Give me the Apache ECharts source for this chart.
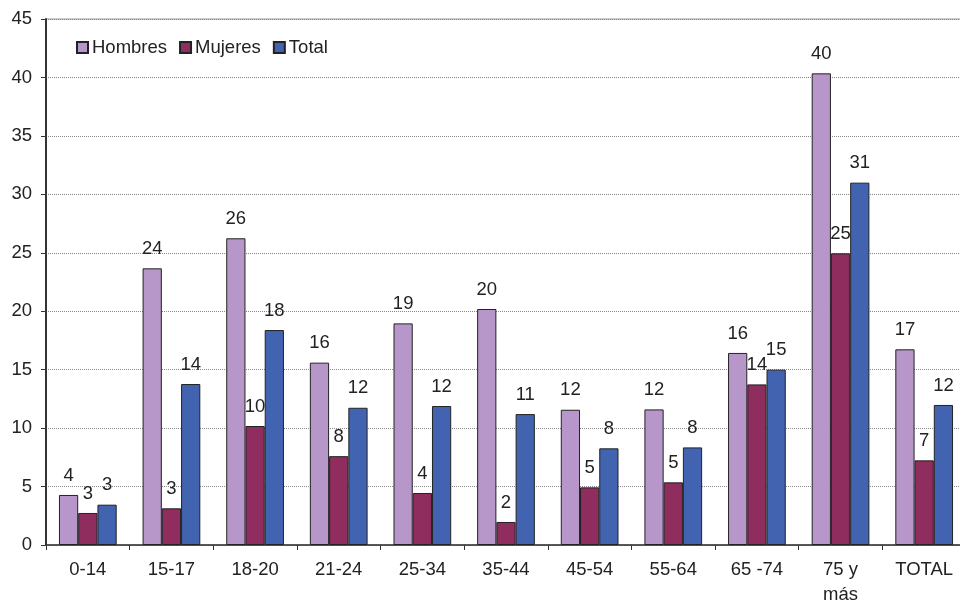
<!DOCTYPE html>
<html>
<head>
<meta charset="utf-8">
<script src="https://cdn.jsdelivr.net/npm/echarts@6/dist/echarts.min.js"></script>
<style>
html,body{margin:0;padding:0;background:#fff;}
#chart{width:960px;height:604px;}
</style>
</head>
<body>
<div id="chart"></div>
<script>
const categories = ['0-14','15-17','18-20','21-24','25-34','35-44','45-54','55-64','65 -74','75 y\nmás','TOTAL'];
const hombres = [4.28, 23.67, 26.24, 15.6, 18.96, 20.19, 11.57, 11.6, 16.43, 40.35, 16.74];
const mujeres = [2.74, 3.14, 10.18, 7.6, 4.45, 1.97, 4.93, 5.36, 13.74, 24.95, 7.24];
const total   = [3.45, 13.77, 18.39, 11.74, 11.89, 11.2, 8.27, 8.35, 15.0, 31.0, 11.98];
const yTicks = {min: 0, max: 45, interval: 5};

const FONT = '"Liberation Sans", Arial, sans-serif';
const FS = 18.5;
const labelCfg = {
  show: true,
  position: 'top',
  distance: 10,
  color: '#222',
  fontSize: FS,
  fontFamily: FONT,
  formatter: p => Math.round(p.value)
};
function mk(name, data, color){
  return {
    name, type: 'bar', data,
    barGap: '0%', barCategoryGap: '31%',
    itemStyle: {color, borderColor: '#222', borderWidth: 1},
    label: labelCfg,
    emphasis: {disabled: true}
  };
}
const chart = echarts.init(document.getElementById('chart'));
chart.setOption({
  animation: false,
  backgroundColor: '#fff',
  textStyle: {fontFamily: FONT},
  grid: {left: 46, right: -6, top: 19, bottom: 59, containLabel: false, outerBoundsMode: 'none',
         show: true, borderColor: '#999', borderWidth: 1},
  legend: {
    left: 76, top: 38, padding: 0,
    icon: 'rect', itemWidth: 11, itemHeight: 11, itemGap: 12,
    textStyle: {fontSize: FS, color: '#222', fontFamily: FONT, padding: [0,0,0,-1]},
    data: ['Hombres','Mujeres','Total']
  },
  xAxis: {
    type: 'category', data: categories,
    axisLine: {lineStyle: {color: '#333', width: 1.5}},
    axisTick: {show: true, length: 5, lineStyle: {color: '#333'}},
    axisLabel: {color: '#222', fontSize: FS, margin: 12, fontFamily: FONT, lineHeight: 25, interval: 0}
  },
  yAxis: {
    type: 'value', min: yTicks.min, max: yTicks.max, interval: yTicks.interval,
    axisLine: {show: true, lineStyle: {color: '#333', width: 2}},
    axisTick: {show: true, length: 5, lineStyle: {color: '#333'}},
    axisLabel: {color: '#222', fontSize: FS, margin: 14, fontFamily: FONT},
    splitLine: {show: true, lineStyle: {color: '#888', type: 'dotted', width: 1}}
  },
  series: [
    mk('Hombres', hombres, '#b797c9'),
    mk('Mujeres', mujeres, '#8e2d5e'),
    mk('Total', total, '#4263af')
  ]
});
</script>
</body>
</html>
